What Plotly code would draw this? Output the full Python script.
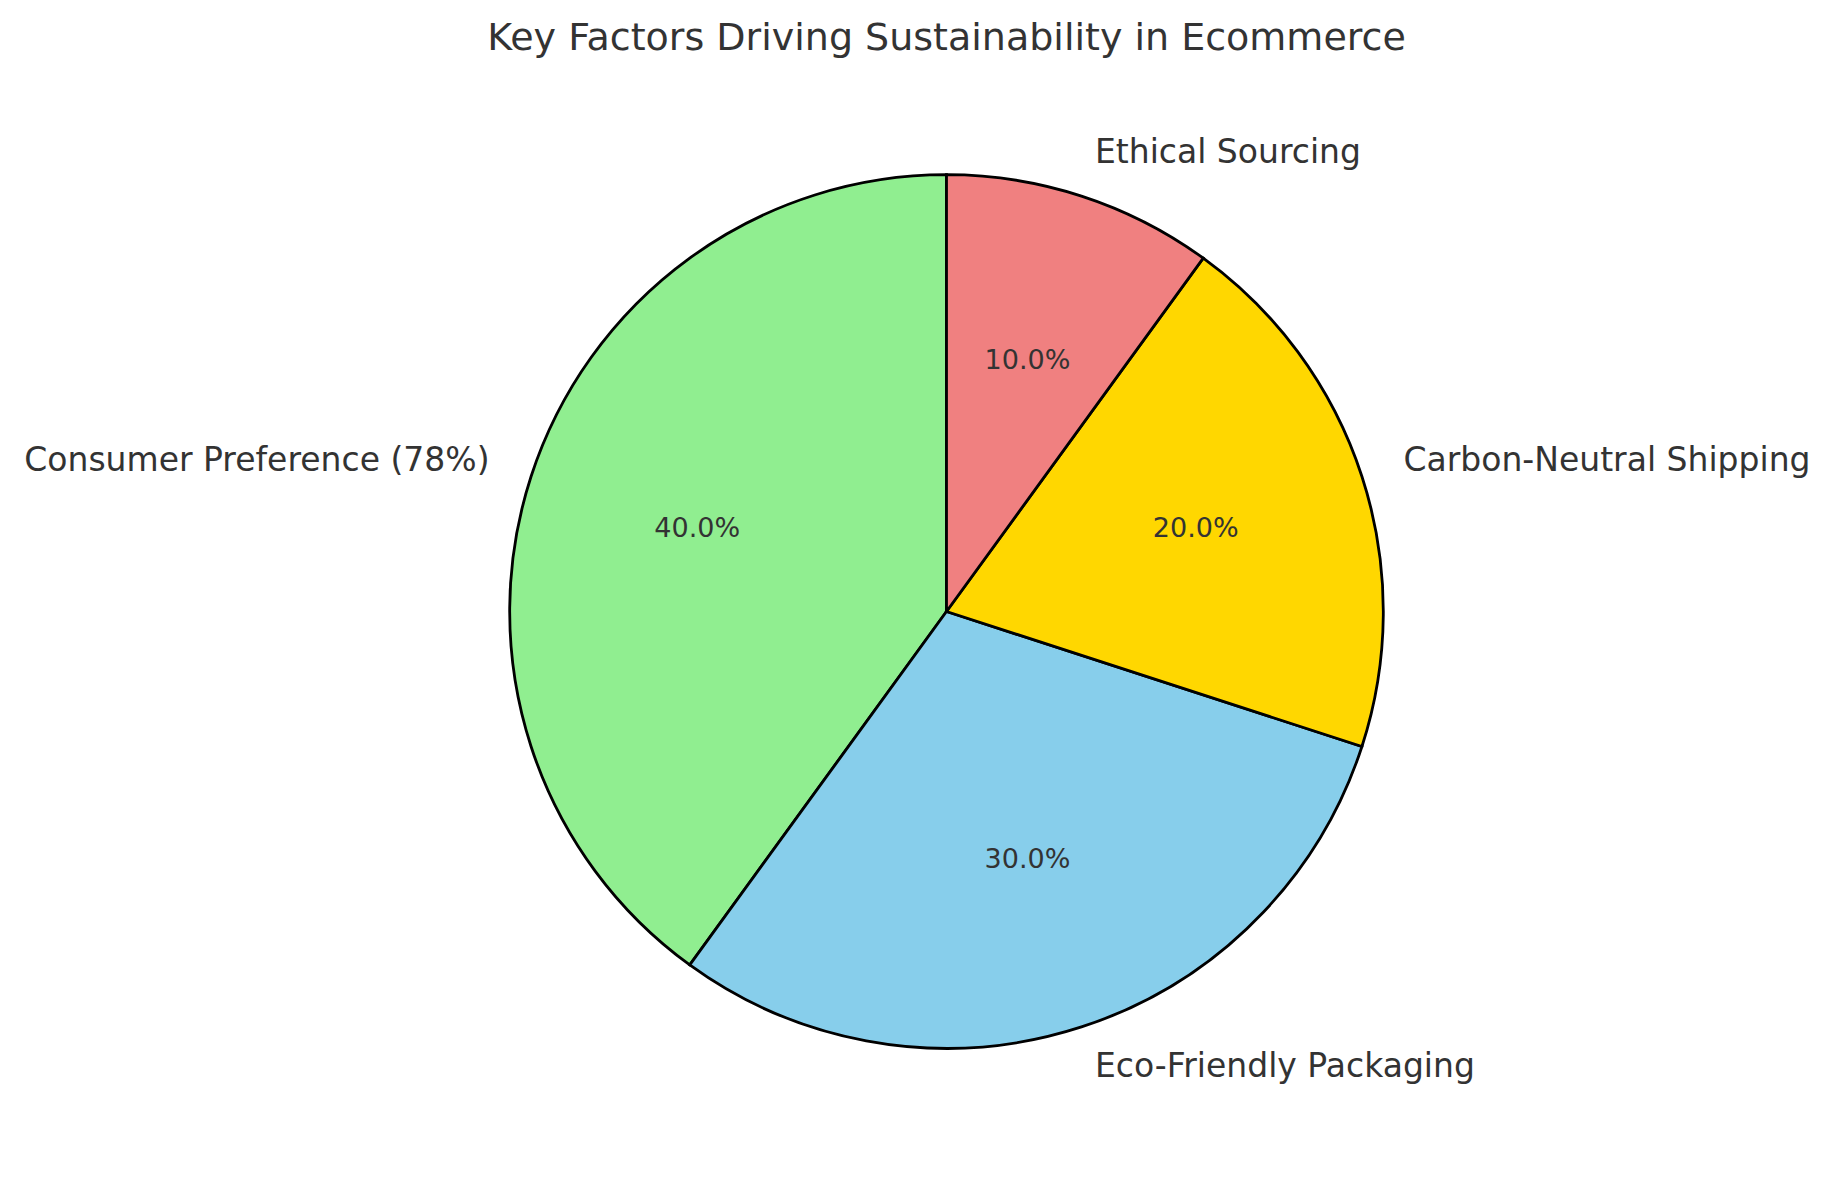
import math
import plotly.graph_objects as go

labels = ["Consumer Preference (78%)", "Eco-Friendly Packaging", "Carbon-Neutral Shipping", "Ethical Sourcing"]
values = [40, 30, 20, 10]
colors = ["#90EE90", "#87CEEB", "#FFD700", "#F08080"]
title_text = "Key Factors Driving Sustainability in Ecommerce"

font_family = "DejaVu Sans, sans-serif"
text_color = "#333333"

# wedge geometry derived from the data (start at 12 o'clock, counterclockwise)
total = float(sum(values))
spans = [360.0 * v / total for v in values]
mids = []
acc = 0.0
for s in spans:
    mids.append(acc + s / 2.0)
    acc += s
pct_text = [f"{100.0 * v / total:.1f}%" for v in values]
label_pos = []
for m in mids:
    x = -math.sin(math.radians(m))
    label_pos.append("middle right" if x > 1e-9 else "middle left")

fig = go.Figure()
fig.add_trace(go.Barpolar(
    r=[1] * len(values), theta=mids, width=spans,
    marker=dict(color=colors, line=dict(color="black", width=2.8)),
    hovertext=labels, hoverinfo="text", showlegend=False,
))
fig.add_trace(go.Scatterpolar(
    r=[0.6] * len(values), theta=mids, mode="text", text=pct_text,
    textposition="middle center",
    textfont=dict(family=font_family, size=27, color=text_color),
    cliponaxis=False, hoverinfo="skip", showlegend=False,
))
fig.add_trace(go.Scatterpolar(
    r=[1.1] * len(values), theta=mids, mode="text", text=labels,
    textposition=label_pos,
    textfont=dict(family=font_family, size=33, color=text_color),
    cliponaxis=False, hoverinfo="skip", showlegend=False,
))

fig.update_layout(
    width=1837, height=1180, autosize=False,
    margin=dict(l=466, r=410, t=131, b=88),
    paper_bgcolor="white", plot_bgcolor="white",
    polar=dict(
        domain=dict(x=[0, 1], y=[0, 1]),
        bgcolor="rgba(0,0,0,0)",
        hole=0,
        radialaxis=dict(range=[0, 1.1], visible=False),
        angularaxis=dict(rotation=90, direction="counterclockwise", visible=False),
    ),
    title=dict(text=title_text, x=0.5, xref="paper", xanchor="center",
               y=1 - 37 / 1180, yref="container", yanchor="middle",
               font=dict(family=font_family, size=38, color=text_color)),
)

fig.write_html("out.html")
